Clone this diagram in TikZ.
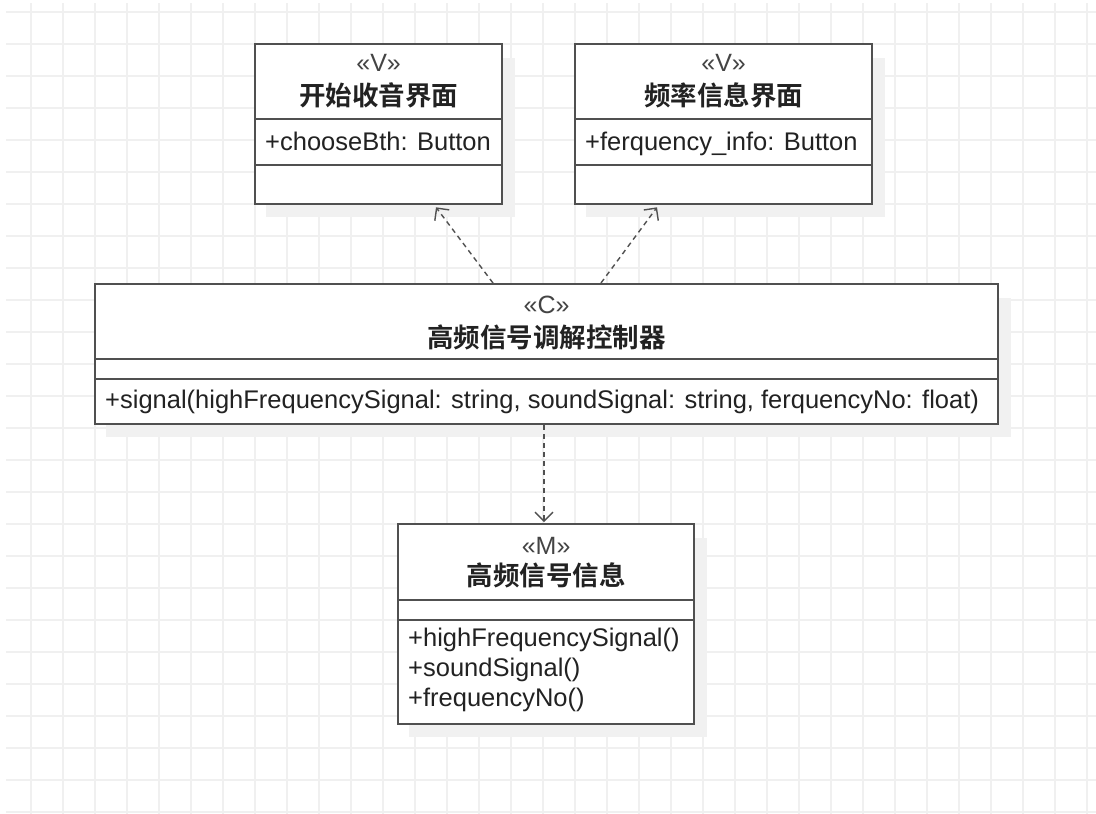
\documentclass[tikz,border=0pt]{standalone}
\usepackage{fontspec}
\setmainfont{Liberation Sans}
\newfontfamily\cjk{Noto Sans CJK SC Bold}
\usetikzlibrary{arrows.meta,calc,backgrounds}
\definecolor{bordc}{HTML}{505050}
\definecolor{gridc}{HTML}{F0F0F0}
\definecolor{shadc}{HTML}{F1F1F1}
\definecolor{txtc}{HTML}{222222}
\definecolor{stc}{HTML}{444444}
\tikzset{
  cls/.style={draw=bordc, line width=2.3pt, fill=white, anchor=north west, inner sep=0pt},
  divider/.style={draw=bordc, line width=2.3pt},
  stereo/.style={font=\fontsize{25}{25}\selectfont, text=stc, inner sep=0pt},
  title/.style={font=\cjk\fontsize{26.5}{26.5}\selectfont, text=txtc, inner sep=0pt},
  member/.style={font=\fontsize{25.5}{30}\selectfont, text=txtc, inner sep=0pt, anchor=base west, align=left},
  dep/.style={draw=bordc, line width=1.4pt, dash pattern=on 5pt off 4pt, -{Straight Barb[length=9pt,width=18pt,line width=1.4pt]}},
  gridline/.style={draw=gridc, line width=1.2pt},
  shadow/.style={fill=shadc}
}
\begin{document}
\begin{tikzpicture}[x=1pt,y=-1pt]
\useasboundingbox (0,0) rectangle (1096,814);
% grid
\begin{scope}[on background layer]
\fill[white] (0,0) rectangle (1096,814);
\foreach \gx in {31,63,...,1095} {\draw[gridline] (\gx,3) -- (\gx,814);}
\foreach \gy in {12,44,...,813} {\draw[gridline] (6,\gy) -- (1096,\gy);}
\end{scope}

% boxes
\node[cls, minimum width=247pt, minimum height=160pt] (v1) at (254,43) {};
\node[cls, minimum width=297pt, minimum height=160pt] (v2) at (574,43) {};
\node[cls, minimum width=903pt, minimum height=140pt] (c) at (94,283) {};
\node[cls, minimum width=296pt, minimum height=200pt] (m) at (397,523) {};

% shadows
\begin{scope}[on background layer]
\foreach \b in {v1,v2,c,m} {
  \fill[shadow] ($(\b.north east)+(0,15)$) rectangle ($(\b.south east)+(12,12)$);
  \fill[shadow] ($(\b.south west)+(12,0)$) rectangle ($(\b.south east)+(12,12)$);
}
\end{scope}

% dividers
\draw[divider] (v1.west |- 0,119) -- (v1.east |- 0,119);
\draw[divider] (v1.west |- 0,165) -- (v1.east |- 0,165);
\draw[divider] (v2.west |- 0,119) -- (v2.east |- 0,119);
\draw[divider] (v2.west |- 0,165) -- (v2.east |- 0,165);
\draw[divider] (c.west |- 0,359) -- (c.east |- 0,359);
\draw[divider] (c.west |- 0,379) -- (c.east |- 0,379);
\draw[divider] (m.west |- 0,600) -- (m.east |- 0,600);
\draw[divider] (m.west |- 0,620) -- (m.east |- 0,620);

% texts
\node[stereo] (v1s) at (v1.north |- 0,63) {«V»};
\node[title] (v1t) at (v1.north |- 0,95) {开始收音界面};
\node[member] (v1a) at ($(v1.west |- 0,150)+(11,0)$) {+chooseBth: Button};

\node[stereo] (v2s) at (v2.north |- 0,63) {«V»};
\node[title] (v2t) at (v2.north |- 0,95) {频率信息界面};
\node[member] (v2a) at ($(v2.west |- 0,150)+(11,0)$) {+ferquency\_info: Button};

\node[stereo] (cs) at (c.north |- 0,305) {«C»};
\node[title] (ct) at (c.north |- 0,337) {高频信号调解控制器};
\node[member] (cm) at ($(c.west |- 0,408)+(11,0)$) {+signal(highFrequencySignal: string, soundSignal: string, ferquencyNo: float)};

\node[stereo] (ms) at (m.north |- 0,546) {«M»};
\node[title] (mt) at (m.north |- 0,575) {高频信号信息};
\node[member, anchor=north west] (mm) at ($(m.west |- 0,628)+(11,0)$) {+highFrequencySignal()\\+soundSignal()\\+frequencyNo()};

% connectors
\draw[dep] ($(c.north west)+(399,0)$) -- ($(v1.south west)+(182,2)$);
\draw[dep] ($(c.north west)+(507,0)$) -- ($(v2.south west)+(83,2)$);
\draw[dep] ($(c.south west)+(450,0)$) -- ($(m.north west)+(147,-1)$);
\end{tikzpicture}
\end{document}
